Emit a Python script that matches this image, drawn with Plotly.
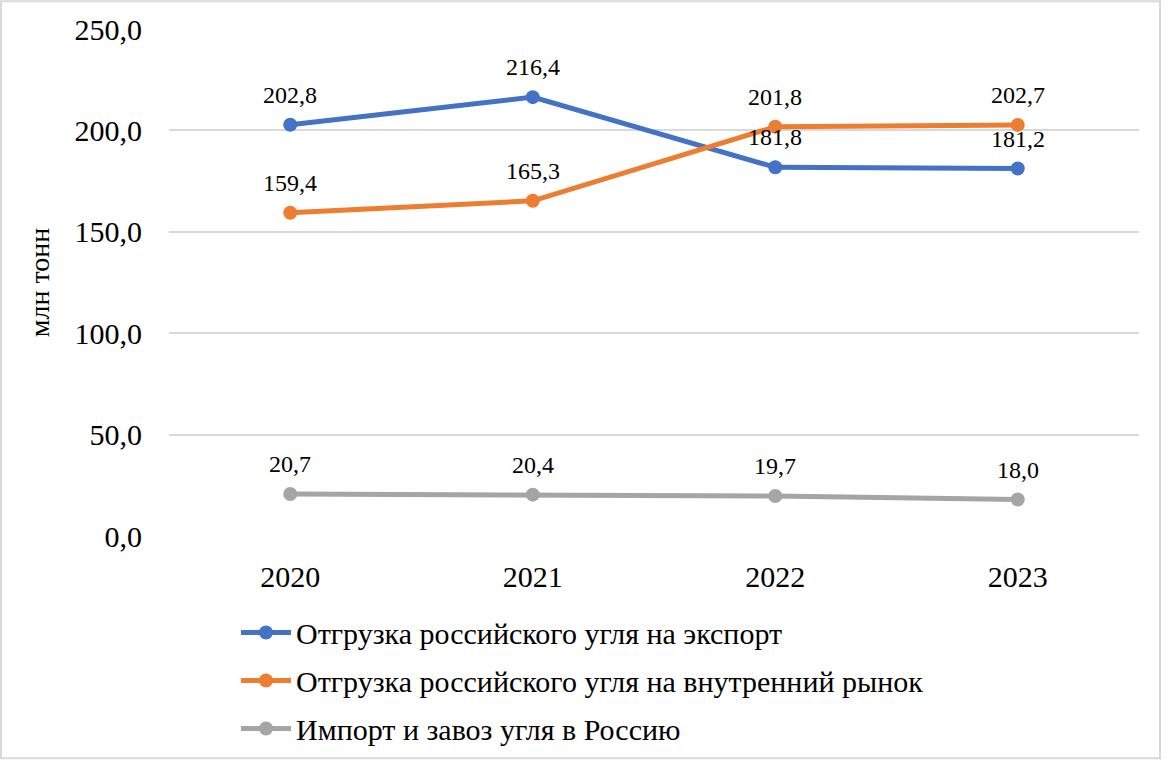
import plotly.graph_objects as go

years = ["2020", "2021", "2022", "2023"]
export_vals = [202.8, 216.4, 181.8, 181.2]
domestic_vals = [159.4, 165.3, 201.8, 202.7]
import_vals = [20.7, 20.4, 19.7, 18.0]
names = [
    "Отгрузка российского угля на экспорт",
    "Отгрузка российского угля на внутренний рынок",
    "Импорт и завоз угля в Россию",
]
colors = ["#4472C4", "#ED7D31", "#A5A5A5"]
y_title = "млн тонн"

FONT = "Liberation Serif"

def fmt(v):
    return f"{v:.1f}".replace(".", ",")

fig = go.Figure()
for i, (vals, name, col) in enumerate(zip([export_vals, domestic_vals, import_vals], names, colors)):
    fig.add_trace(go.Scatter(
        x=years, y=vals, name=name, mode="lines+markers",
        line=dict(color=col, width=5),
        marker=dict(color=col, size=14),
        legendgroup=f"g{i}",
        cliponaxis=False,
    ))
    for j, yv in enumerate(vals):
        fig.add_annotation(
            x=j, y=yv, xref="x", yref="y", text=fmt(yv), showarrow=False, yshift=30,
            font=dict(family=FONT, size=24, color="black"),
        )

L, R, T, B = 169, 1139, 29, 540
W, H = 1168, 766
pw, ph = R - L, B - T

def px_x(p):
    return (p - L) / pw

def px_y(p):
    return (B - p) / ph

fig.update_layout(
    width=W, height=H,
    margin=dict(l=L, r=W - R, t=T, b=H - B, pad=0),
    paper_bgcolor="white", plot_bgcolor="white",
    separators=", ",
    font=dict(family=FONT, color="black"),
    showlegend=True,
    legend=dict(
        x=px_x(236), y=px_y(611), xanchor="left", yanchor="top",
        font=dict(family=FONT, size=30, color="black"),
        traceorder="grouped", tracegroupgap=6,
        itemwidth=50,
        bgcolor="rgba(0,0,0,0)",
    ),
    xaxis=dict(
        type="category", range=[-0.5, 3.5],
        showgrid=False, showline=False, zeroline=False,
        tickfont=dict(family=FONT, size=30, color="black"),
        ticks="", ticklabelstandoff=20,
    ),
    yaxis=dict(
        range=[0, 250], dtick=50, tickformat=".1f",
        showgrid=True, gridcolor="#D9D9D9", gridwidth=2,
        zeroline=False, showline=False,
        tickfont=dict(family=FONT, size=30, color="black"),
        ticks="", ticklabelstandoff=26,
        title=dict(text=y_title, font=dict(family=FONT, size=28, color="black"), standoff=16),
    ),
    shapes=[dict(
        type="rect", xref="paper", yref="paper",
        x0=px_x(1), x1=px_x(1160), y0=px_y(764), y1=px_y(1),
        line=dict(color="#D9D9D9", width=2), fillcolor="rgba(0,0,0,0)", layer="below",
    )],
)

fig.write_html(
    "out.html",
    config={"displayModeBar": False},
    post_script="document.body.style.margin='0';document.body.style.padding='0';",
)
